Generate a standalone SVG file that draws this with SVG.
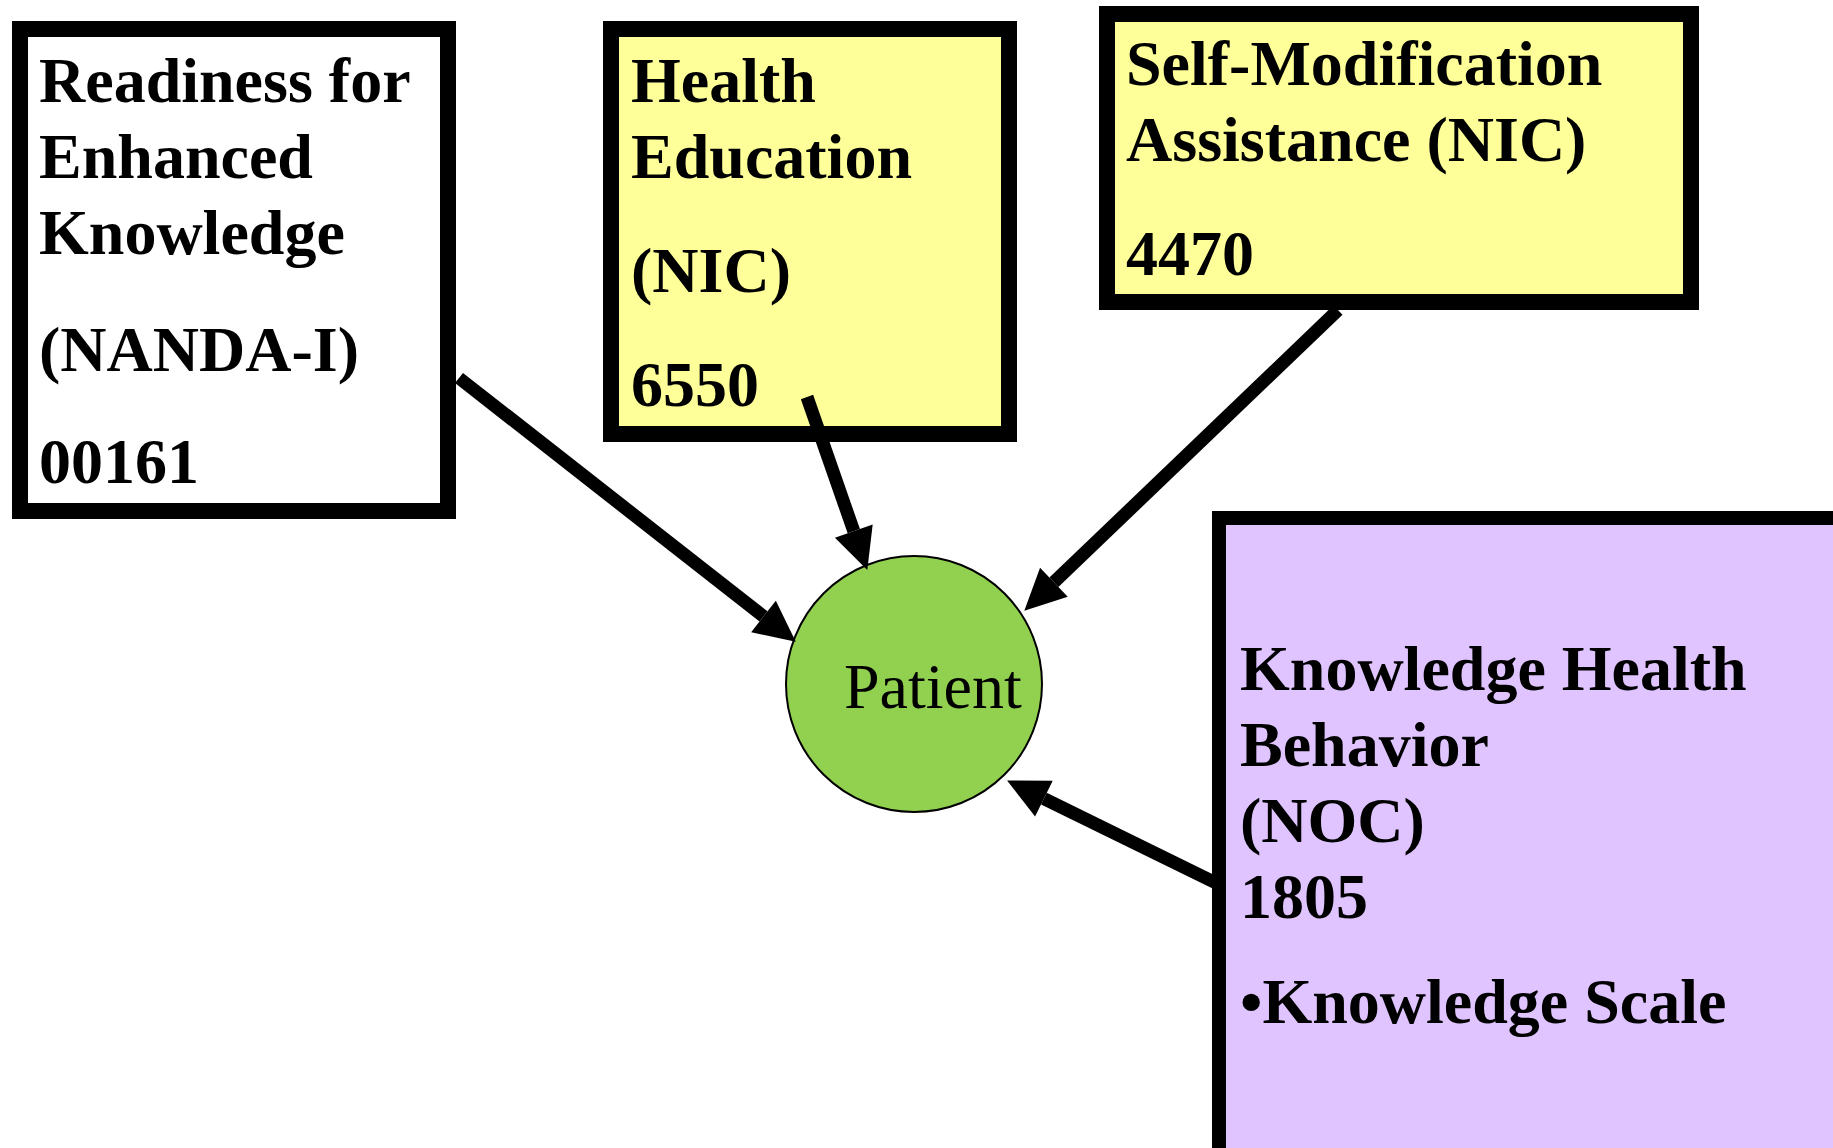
<svg xmlns="http://www.w3.org/2000/svg" width="1833" height="1148" viewBox="0 0 1833 1148">
<style>
.box{stroke:#000;stroke-width:16}
.t{font-family:"Liberation Serif","Times New Roman",serif;font-weight:bold;font-size:64px;fill:#000}
.p{font-family:"Liberation Serif","Times New Roman",serif;font-size:64px;fill:#000}
.c{stroke:#000;stroke-width:13;fill:none}
</style>
<defs>
<marker id="ah" markerUnits="userSpaceOnUse" markerWidth="44" markerHeight="44" refX="0" refY="0" orient="auto" overflow="visible">
<path d="M0,-20 L41,0 L0,20 z" fill="#000"/>
</marker>
</defs>
<rect width="1833" height="1148" fill="#fff"/>
<g id="n-readiness">
<rect class="box" x="20" y="29" width="428" height="482" fill="#fff"/>
<text class="t" x="39" y="102">Readiness for</text>
<text class="t" x="39" y="178">Enhanced</text>
<text class="t" x="39" y="254">Knowledge</text>
<text class="t" x="39" y="371">(NANDA-I)</text>
<text class="t" x="39" y="483">00161</text>
</g>
<g id="n-health-education">
<rect class="box" x="611" y="29" width="398" height="405" fill="#FFFF99"/>
<text class="t" x="631" y="102">Health</text>
<text class="t" x="631" y="178">Education</text>
<text class="t" x="631" y="292">(NIC)</text>
<text class="t" x="631" y="406">6550</text>
</g>
<g id="n-self-modification">
<rect class="box" x="1107" y="14" width="584" height="288" fill="#FFFF99"/>
<text class="t" x="1126" y="85">Self-Modification</text>
<text class="t" x="1126" y="161">Assistance (NIC)</text>
<text class="t" x="1126" y="275">4470</text>
</g>
<g id="n-knowledge-behavior">
<rect x="1219" y="518" width="700" height="700" fill="#E0C4FF" stroke="#000" stroke-width="14"/>
<text class="t" x="1240" y="690">Knowledge Health</text>
<text class="t" x="1240" y="766">Behavior</text>
<text class="t" x="1240" y="842">(NOC)</text>
<text class="t" x="1240" y="918">1805</text>
<text class="t" x="1240" y="1023">•Knowledge Scale</text>
</g>
<g id="n-patient">
<circle cx="914" cy="684" r="128" fill="#92D050" stroke="#000" stroke-width="2"/>
<text class="p" x="844" y="708">Patient</text>
</g>
<g id="connectors">
<line class="c" x1="459" y1="378" x2="763.5" y2="616.4" marker-end="url(#ah)"/>
<line class="c" x1="807" y1="397" x2="853.8" y2="531.2" marker-end="url(#ah)"/>
<line class="c" x1="1338" y1="310" x2="1053.9" y2="582.3" marker-end="url(#ah)"/>
<line class="c" x1="1216" y1="883" x2="1043.9" y2="798.6" marker-end="url(#ah)"/>
</g>
</svg>
